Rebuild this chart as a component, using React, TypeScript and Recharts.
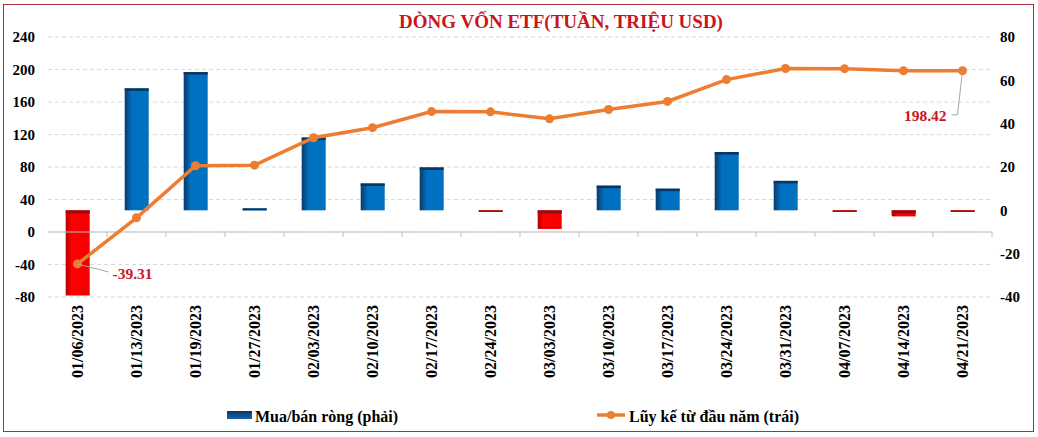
import React from "react";
import {
  ComposedChart,
  Bar,
  Line,
  XAxis,
  YAxis,
  CartesianGrid,
  Legend,
  LabelList,
  ReferenceLine,
} from "recharts";

const weeks = [
  "01/06/2023", "01/13/2023", "01/19/2023", "01/27/2023",
  "02/03/2023", "02/10/2023", "02/17/2023", "02/24/2023",
  "03/03/2023", "03/10/2023", "03/17/2023", "03/24/2023",
  "03/31/2023", "04/07/2023", "04/14/2023", "04/21/2023",
];

// weekly net buy/sell (right axis)
const netFlow = [
  -39.31, 56.3, 63.8, 0.9, 33.6, 12.4, 19.8, -0.3,
  -8.6, 11.4, 10.0, 26.9, 13.6, -0.2, -2.8, -0.2,
];

// year-to-date cumulative (left axis)
const cumulative = [
  -39.31, 17.5, 81.5, 82.3, 116.0, 128.4, 148.2, 147.9,
  139.3, 150.7, 160.7, 187.6, 201.2, 201.0, 198.4, 198.42,
];

const leftTicks = [-80, -40, 0, 40, 80, 120, 160, 200, 240];
const rightTicks = [-40, -20, 0, 20, 40, 60, 80];

const FONT = '"Liberation Serif", "Times New Roman", serif';
const ORANGE = "#ED7D31";
const LABEL_RED = "#C8161D";
const serifBold = { fontFamily: FONT, fontWeight: 700 };

const data = weeks.map((week, i) => ({
  week,
  net: netFlow[i],
  cum: cumulative[i],
}));

const BarShape = (props: any) => {
  const { x, y, width, height, payload } = props;
  const top = Math.min(y, y + height);
  const h = Math.max(Math.abs(height), 1.5);
  if (payload.net < 0) {
    return (
      <g>
        <rect x={x} y={top} width={width} height={h} fill="url(#redGrad)" />
        <rect x={x} y={top} width={width} height={Math.min(h, 3)} fill="#9A0B0B" />
      </g>
    );
  }
  return (
    <g>
      <rect x={x} y={top} width={width} height={h} fill="url(#blueGrad)" />
      <rect x={x} y={top} width={width} height={Math.min(h, 2.5)} fill="#0B3560" />
    </g>
  );
};

const DateTick = ({ x, y, payload }: any) => (
  <text
    x={x}
    y={y}
    dy={5.6}
    transform={`rotate(-90, ${x}, ${y})`}
    textAnchor="end"
    style={{ ...serifBold, fontSize: 16 }}
    fill="#000"
  >
    {payload.value}
  </text>
);

const ZeroAxis = (props: any) => {
  const { x1, x2, y1 } = props;
  const step = (x2 - x1) / weeks.length;
  return (
    <g>
      <line x1={x1} x2={x2} y1={y1} y2={y1} stroke="#BFBFBF" strokeWidth={1.2} />
      {weeks.map((w, i) => (
        <line
          key={w}
          x1={x1 + step * (i + 1)}
          x2={x1 + step * (i + 1)}
          y1={y1}
          y2={y1 + 5}
          stroke="#BFBFBF"
        />
      ))}
    </g>
  );
};

const EndLabel = (props: any) => {
  const { x, y, value, index } = props;
  if (index === 0) {
    return (
      <g>
        <line x1={x} y1={y} x2={x + 31} y2={y + 8} stroke="#A6A6A6" />
        <text x={x + 35} y={y + 15} style={{ ...serifBold, fontSize: 15.5 }} fill={LABEL_RED}>
          {value.toFixed(2)}
        </text>
      </g>
    );
  }
  if (index === weeks.length - 1) {
    return (
      <g>
        <polyline
          points={`${x},${y} ${x - 5},${y + 44} ${x - 11},${y + 44}`}
          fill="none"
          stroke="#A6A6A6"
        />
        <text x={x - 16} y={y + 50} textAnchor="end" style={{ ...serifBold, fontSize: 15.5 }} fill={LABEL_RED}>
          {value.toFixed(2)}
        </text>
      </g>
    );
  }
  return null;
};

const ChartLegend = ({ payload }: any) => {
  if (!payload) return null;
  const bar = payload.find((p: any) => p.dataKey === "net");
  const line = payload.find((p: any) => p.dataKey === "cum");
  return (
    <svg width={1038} height={40} style={{ display: "block" }}>
      <defs>
        <linearGradient id="legendBlue" x1="0" y1="0" x2="0" y2="1">
          <stop offset="0%" stopColor="#0B3560" />
          <stop offset="100%" stopColor="#1565A8" />
        </linearGradient>
      </defs>
      <rect x={227} y={14} width={25} height={8} fill="url(#legendBlue)" />
      <text x={255} y={25} style={{ ...serifBold, fontSize: 16 }} fill="#000">
        {bar ? bar.value : ""}
      </text>
      <line x1={597} x2={625} y1={18} y2={18} stroke={ORANGE} strokeWidth={3.5} />
      <circle cx={611} cy={18} r={4} fill={ORANGE} />
      <text x={629} y={25} style={{ ...serifBold, fontSize: 16 }} fill="#000">
        {line ? line.value : ""}
      </text>
    </svg>
  );
};

export default function App() {
  return (
    <div
      style={{
        position: "absolute",
        left: 0,
        top: 0,
        width: 1038,
        height: 437,
        background: "#fff",
        overflow: "hidden",
      }}
    >
      <div
        style={{
          position: "absolute",
          left: 3,
          top: 4,
          width: 1029,
          height: 426,
          border: "1.5px solid #A8323A",
        }}
      />
      <div
        style={{
          position: "absolute",
          left: 0,
          top: 11,
          width: 1122,
          textAlign: "center",
          ...serifBold,
          fontSize: 19,
          color: "#C8161D",
          lineHeight: "22px",
        }}
      >
        DÒNG VỐN ETF(TUẦN, TRIỆU USD)
      </div>
      <ComposedChart
        width={1038}
        height={437}
        data={data}
        margin={{ top: 37, right: 0, bottom: 0, left: 0 }}
        barCategoryGap="30%"
        style={{ position: "absolute", left: 0, top: 0 }}
      >
        <defs>
          <linearGradient id="blueGrad" x1="0" y1="0" x2="1" y2="0">
            <stop offset="0%" stopColor="#0B3A68" />
            <stop offset="30%" stopColor="#0070C0" />
            <stop offset="100%" stopColor="#0070C0" />
          </linearGradient>
          <linearGradient id="redGrad" x1="0" y1="0" x2="1" y2="0">
            <stop offset="0%" stopColor="#B30000" />
            <stop offset="25%" stopColor="#FF0000" />
            <stop offset="100%" stopColor="#F20000" />
          </linearGradient>
        </defs>
        <CartesianGrid
          yAxisId="left"
          vertical={false}
          stroke="#D9D9D9"
          strokeDasharray="4 3"
        />
        <XAxis
          dataKey="week"
          height={100}
          axisLine={false}
          tickLine={false}
          tickSize={0}
          tickMargin={8}
          interval={0}
          tick={<DateTick />}
        />
        <YAxis
          yAxisId="left"
          orientation="left"
          width={48}
          domain={[-80, 240]}
          ticks={leftTicks}
          axisLine={false}
          tickLine={false}
          tickSize={0}
          tickMargin={13}
          tick={{ style: { ...serifBold, fontSize: 15 }, fill: "#000" }}
        />
        <YAxis
          yAxisId="right"
          orientation="right"
          width={46}
          domain={[-40, 80]}
          ticks={rightTicks}
          axisLine={false}
          tickLine={false}
          tickSize={0}
          tickMargin={8}
          tick={{ style: { ...serifBold, fontSize: 15 }, fill: "#000" }}
        />
        <ReferenceLine yAxisId="left" y={0} shape={<ZeroAxis />} />
        <Bar
          yAxisId="right"
          dataKey="net"
          name="Mua/bán ròng (phải)"
          fill="#0070C0"
          shape={<BarShape />}
          isAnimationActive={false}
        />
        <Line
          yAxisId="left"
          type="linear"
          dataKey="cum"
          name="Lũy kế từ đầu năm (trái)"
          stroke={ORANGE}
          strokeWidth={3.5}
          dot={{ r: 4.5, fill: ORANGE, stroke: ORANGE, strokeWidth: 0 }}
          activeDot={false}
          isAnimationActive={false}
        >
          <LabelList dataKey="cum" content={<EndLabel />} />
        </Line>
        <Legend
          verticalAlign="bottom"
          height={40}
          content={<ChartLegend />}
          wrapperStyle={{ left: 0, width: 1038, height: 40 }}
        />
      </ComposedChart>
    </div>
  );
}
